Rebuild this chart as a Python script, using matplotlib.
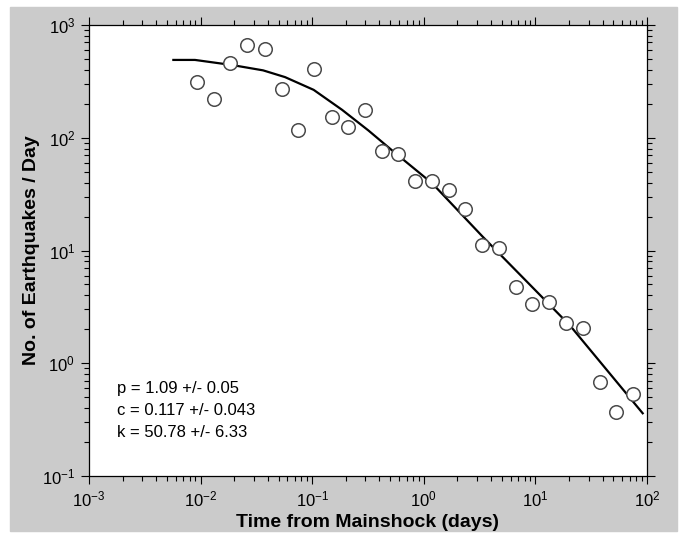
import numpy as np
import matplotlib
matplotlib.use('Agg')
from matplotlib import pyplot as plt
from matplotlib.patches import Rectangle
from matplotlib.ticker import LogLocator, NullFormatter

plt.rcParams['font.family'] = ['Liberation Sans', 'DejaVu Sans']
plt.rcParams['mathtext.fontset'] = 'custom'
plt.rcParams['mathtext.rm'] = 'Liberation Sans'
plt.rcParams['mathtext.it'] = 'Liberation Sans:italic'
plt.rcParams['mathtext.bf'] = 'Liberation Sans:bold'

# observed daily rates (days after mainshock, events/day)
days = [0.00936, 0.0133, 0.0185, 0.0262, 0.0374, 0.0532, 0.075, 0.104, 0.149,
        0.210, 0.297, 0.419, 0.590, 0.841, 1.19, 1.67, 2.36, 3.33, 4.69,
        6.74, 9.34, 13.2, 18.7, 26.7, 37.6, 53.0, 74.8]
rate = [310, 219, 462, 662, 617, 273, 118, 411, 154,
        125, 177, 76.6, 71.3, 41.3, 41.3, 34.2, 23.3, 11.1, 10.5,
        4.78, 3.32, 3.46, 2.28, 2.05, 0.68, 0.373, 0.53]

# fitted Omori curve
fit_days = [0.0057, 0.0089, 0.0193, 0.0363, 0.0571, 0.103, 0.185, 0.319,
            0.549, 1.19, 3.36, 8.3, 20.5, 91.5]
fit_rate = [490, 490, 441, 396, 345, 266, 177, 116,
            73.8, 39.4, 13.3, 5.35, 2.15, 0.36]

param_lines = ['p = 1.09 +/- 0.05', 'c = 0.117 +/- 0.043', 'k = 50.78 +/- 6.33']

fig = plt.figure(figsize=(6.88, 5.38), dpi=100, facecolor='white')
# grey panel behind the plot
fig.patches.append(Rectangle((10/688, 7/538), 667/688, 524/538,
                             transform=fig.transFigure, color='#cbcbcb', zorder=-5))

ax = fig.add_axes([89/688, 1-476/538, 558/688, 451/538])
ax.set_facecolor('white')

ax.plot(fit_days, fit_rate, color='black', lw=1.6, zorder=2)
ax.scatter(days, rate, s=95, facecolors='white', edgecolors='#4a4a4a',
           linewidths=1.1, zorder=3)

ax.set_xscale('log')
ax.set_yscale('log')
ax.set_xlim(1e-3, 1e2)
ax.set_ylim(1e-1, 1e3)

for a in (ax.xaxis, ax.yaxis):
    a.set_major_locator(LogLocator(base=10, numticks=10))
    a.set_minor_locator(LogLocator(base=10, subs=np.arange(2, 10), numticks=10))
    a.set_minor_formatter(NullFormatter())

ax.tick_params(which='both', direction='out', top=True, right=True,
               labelsize=12, width=0.8, color='black')
ax.tick_params(which='major', length=6, pad=4)
ax.tick_params(which='minor', length=3.5)

for s in ax.spines.values():
    s.set_linewidth(0.9)

ax.set_xlabel('Time from Mainshock (days)', fontsize=14, fontweight='bold', labelpad=3)
ax.set_ylabel('No. of Earthquakes / Day', fontsize=14, fontweight='bold', labelpad=1)

for i, t in enumerate(param_lines):
    ax.text(0.05, 0.195 - i*0.049, t, transform=ax.transAxes, fontsize=12,
            va='center', ha='left')

fig.savefig('out.png', dpi=100, facecolor=fig.get_facecolor())
